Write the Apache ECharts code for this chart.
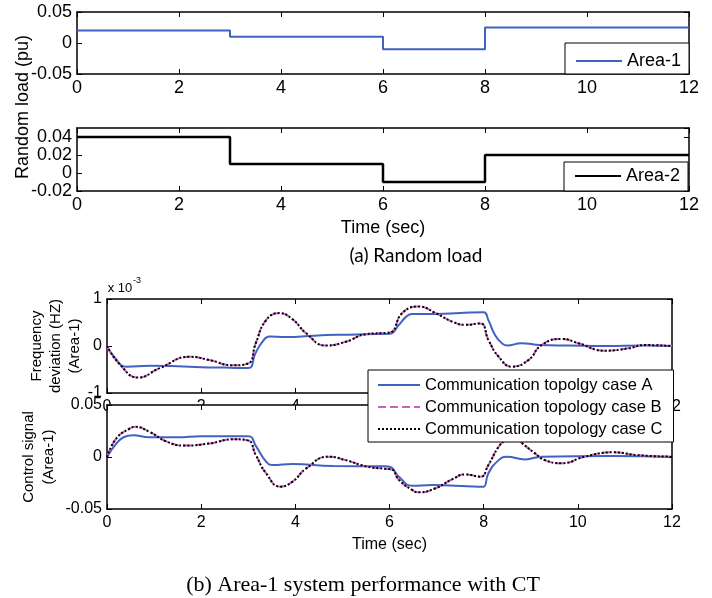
<!DOCTYPE html>
<html><head><meta charset="utf-8">
<script src="https://cdn.jsdelivr.net/npm/echarts@6/dist/echarts.min.js"></script>
<style>html,body{margin:0;padding:0;background:#fff}#c{width:712px;height:598px}</style>
</head><body><div id="c"></div>
<script>
// ---------- data ----------
const xTickValues = [0, 2, 4, 6, 8, 10, 12];
const loadTime = [0, 3, 6, 8, 12];
const loadArea1 = [0.02, 0.01, -0.01, 0.025, 0.025];
const loadArea2 = [0.04, 0.01, -0.01, 0.02, 0.02];

// Frequency deviation (x 10^-3), Area-1
const freqTimeA = [0, 0.15, 0.42, 0.9, 1.5, 2.0, 2.5, 3.0, 3.15, 3.3, 3.45, 3.8, 4.4, 5.0, 5.5, 6.0, 6.2, 6.35, 6.48, 7.0, 7.5, 8.0, 8.1, 8.25, 8.4, 8.5, 8.8, 9.2, 9.8, 10.6, 11.4, 12];
const freqCaseA = [0, -0.23, -0.44, -0.42, -0.43, -0.45, -0.46, -0.47, -0.16, 0.09, 0.2, 0.19, 0.22, 0.24, 0.25, 0.26, 0.45, 0.62, 0.68, 0.68, 0.70, 0.72, 0.55, 0.22, 0.05, 0.01, 0.06, 0.02, 0.01, 0, 0.01, 0];
const freqTimeB = [0, 0.28, 0.66, 1.12, 1.76, 2.18, 2.67, 3.0, 3.16, 3.38, 3.66, 3.94, 4.23, 4.65, 5.07, 5.5, 5.95, 6.05, 6.27, 6.62, 6.98, 7.33, 7.61, 7.93, 8.1, 8.32, 8.6, 8.95, 9.23, 9.66, 10.01, 10.58, 11.07, 11.42, 12];
const freqCaseB = [0, -0.40, -0.67, -0.47, -0.23, -0.30, -0.41, -0.37, 0.06, 0.55, 0.70, 0.57, 0.27, 0.01, 0.09, 0.25, 0.28, 0.30, 0.70, 0.84, 0.70, 0.52, 0.45, 0.48, 0.13, -0.23, -0.44, -0.30, 0.02, 0.15, 0.06, -0.10, -0.05, 0.02, 0];
const freqCaseC = freqCaseB.slice(); // C overlays B in the figure

// Control signal, Area-1
const ctrlTimeA = [0, 0.2, 0.35, 0.55, 0.9, 1.5, 2.0, 3.0, 3.17, 3.38, 3.52, 3.94, 4.8, 5.9, 6.0, 6.2, 6.48, 6.9, 7.9, 8.0, 8.1, 8.32, 8.49, 8.88, 9.23, 10.7, 12];
const ctrlCaseA = [0, 0.013, 0.019, 0.021, 0.019, 0.019, 0.020, 0.020, 0.010, -0.0045, -0.0077, -0.0067, -0.0087, -0.009, -0.0093, -0.019, -0.0276, -0.027, -0.0285, -0.0285, -0.0157, -0.003, 0.0003, -0.0023, 0.0003, 0.001, 0];
const ctrlTimeB = [0, 0.2, 0.49, 0.6, 0.91, 1.26, 1.65, 2.18, 2.67, 2.99, 3.16, 3.38, 3.68, 3.94, 4.23, 4.7, 5.07, 5.5, 5.95, 6.05, 6.2, 6.48, 6.62, 6.98, 7.33, 7.61, 7.93, 8.1, 8.32, 8.46, 8.63, 8.81, 9.09, 9.3, 9.66, 10.15, 10.75, 11.28, 12];
const ctrlCaseB = [0, 0.018, 0.0276, 0.029, 0.024, 0.015, 0.011, 0.013, 0.017, 0.016, 0.002, -0.0157, -0.0285, -0.0237, -0.011, 0.0003, -0.003, -0.009, -0.0115, -0.012, -0.022, -0.0317, -0.034, -0.030, -0.0215, -0.0167, -0.019, -0.0077, 0.01, 0.016, 0.02, 0.0135, 0.0035, -0.003, -0.006, 0.0003, 0.0045, 0.0017, 0.0003];
const ctrlCaseC = ctrlCaseB.slice();

const seriesNames = ['Communication topolgy case A', 'Communication topology case B', 'Communication topology case C'];

// ---------- helpers ----------
const zip = (t, v) => t.map((x, i) => [x, v[i]]);
const SANS = '"Liberation Sans", Arial, sans-serif';
const BLUE = '#4162C0', PINK = '#CC5FC4', BLACK = '#000';
const axLine = { show: true, onZero: false, lineStyle: { color: '#000', width: 1.5 } };
const tick = { show: true, inside: true, length: 5, lineStyle: { color: '#000', width: 1 } };

const grids = [
  { left: 77, top: 12, width: 612, height: 62 },
  { left: 77, top: 128, width: 612, height: 63 },
  { left: 107, top: 299, width: 565, height: 94 },
  { left: 107, top: 405, width: 565, height: 104, show: true, backgroundColor: '#fff', borderWidth: 0, z: 2 }
];
const yRanges = [
  { min: -0.05, max: 0.05, interval: 0.05 },
  { min: -0.02, max: 0.05, interval: 0.02 },
  { min: -1, max: 1, interval: 1 },
  { min: -0.05, max: 0.05, interval: 0.05 }
];
const fs = [18, 18, 16, 16];
const axZ = [0, 0, 0, 3];

const xAxis = [], yAxis = [];
grids.forEach((g, i) => {
  xAxis.push({
    type: 'value', gridIndex: i, min: 0, max: 12, interval: 2, position: 'bottom', z: axZ[i],
    axisLine: axLine, axisTick: tick, splitLine: { show: false },
    axisLabel: { color: '#000', fontFamily: SANS, fontSize: fs[i], margin: i < 2 ? 5 : 6 },
    name: (i === 1 || i === 3) ? 'Time (sec)' : '', nameLocation: 'middle', nameGap: 28,
    nameTextStyle: { color: '#000', fontFamily: SANS, fontSize: fs[i], verticalAlign: 'top' }
  });
  xAxis.push({
    type: 'value', gridIndex: i, min: 0, max: 12, interval: 2, position: 'top', z: axZ[i],
    axisLine: axLine, axisTick: tick, splitLine: { show: false }, axisLabel: { show: false }
  });
  yAxis.push(Object.assign({
    type: 'value', gridIndex: i, position: 'left', z: axZ[i],
    axisLine: axLine, axisTick: tick, splitLine: { show: false },
    axisLabel: { color: '#000', fontFamily: SANS, fontSize: fs[i], margin: 5, showMaxLabel: i !== 1 }
  }, yRanges[i]));
  yAxis.push(Object.assign({
    type: 'value', gridIndex: i, position: 'right', z: axZ[i],
    axisLine: axLine, axisTick: tick, splitLine: { show: false }, axisLabel: { show: false }
  }, yRanges[i]));
});

const lineBase = { type: 'line', symbol: 'none', showSymbol: false, animation: false };
const series = [
  Object.assign({}, lineBase, { name: 'Area-1', xAxisIndex: 0, yAxisIndex: 0, step: 'end',
    data: zip(loadTime, loadArea1), lineStyle: { color: BLUE, width: 2 }, itemStyle: { color: BLUE } }),
  Object.assign({}, lineBase, { name: 'Area-2', xAxisIndex: 2, yAxisIndex: 2, step: 'end',
    data: zip(loadTime, loadArea2), lineStyle: { color: BLACK, width: 2.5 }, itemStyle: { color: BLACK } })
];
const panelData = [
  [zip(freqTimeA, freqCaseA), zip(freqTimeB, freqCaseB), zip(freqTimeB, freqCaseC)],
  [zip(ctrlTimeA, ctrlCaseA), zip(ctrlTimeB, ctrlCaseB), zip(ctrlTimeB, ctrlCaseC)]
];
const styles = [
  { color: BLUE, width: 2, type: 'solid' },
  { color: PINK, width: 2, type: 'dashed' },
  { color: BLACK, width: 2, type: 'dotted' }
];
panelData.forEach((pd, p) => {
  pd.forEach((d, k) => {
    series.push(Object.assign({}, lineBase, {
      name: seriesNames[k], xAxisIndex: 4 + 2 * p, yAxisIndex: 4 + 2 * p,
      data: d, smooth: 0.5, z: 2 + k,
      lineStyle: styles[k], itemStyle: { color: styles[k].color }
    }));
  });
});

const legendBase = {
  orient: 'vertical', backgroundColor: '#fff', borderColor: '#000', borderWidth: 1, borderRadius: 0,
  selectedMode: false, itemGap: 4, z: 10, itemStyle: { opacity: 0 }
};
const legend = [
  Object.assign({}, legendBase, { data: ['Area-1'], left: 565, top: 43, padding: [8, 8, 3, 10],
    itemWidth: 46, itemHeight: 14, textStyle: { fontFamily: SANS, fontSize: 18, color: '#000', lineHeight: 20 } }),
  Object.assign({}, legendBase, { data: ['Area-2'], left: 564, top: 162, padding: [4, 8, 5, 10],
    itemWidth: 46, itemHeight: 14, textStyle: { fontFamily: SANS, fontSize: 18, color: '#000', lineHeight: 20 } }),
  Object.assign({}, legendBase, { data: seriesNames, left: 368, top: 370, padding: [6, 11, 4, 9],
    itemWidth: 42, itemHeight: 14, textStyle: { fontFamily: SANS, fontSize: 16.5, color: '#000', lineHeight: 18 } })
];

const txt = (text, x, y, font, extra) => Object.assign({
  type: 'text', x: x, y: y, z: 20,
  style: { text: text, font: font, fill: '#000', textAlign: 'center', textVerticalAlign: 'middle' }
}, extra || {});

const graphic = [
  txt('Random load (pu)', 23, 107, '18px ' + SANS, { rotation: Math.PI / 2 }),
  txt('', 56, 346, '', { rotation: Math.PI / 2, style: { text: 'Frequency\ndeviation (HZ)\n(Area-1)', font: '15px ' + SANS, fill: '#000', textAlign: 'center', textVerticalAlign: 'middle', lineHeight: 19 } }),
  txt('', 39, 457, '', { rotation: Math.PI / 2, style: { text: 'Control signal\n(Area-1)', font: '15px ' + SANS, fill: '#000', textAlign: 'center', textVerticalAlign: 'middle', lineHeight: 20 } }),
  txt('x 10', 120, 288, '13px ' + SANS),
  txt('-3', 137, 281, '9px ' + SANS),
  txt('(a) Random load', 416, 256, '19px Lato, "Open Sans", sans-serif'),
  txt('(b) Area-1 system performance with CT', 363, 585, '22px "Liberation Serif", "Times New Roman", serif')
];

const chart = echarts.init(document.getElementById('c'));
chart.setOption({
  backgroundColor: '#fff', animation: false,
  grid: grids, xAxis: xAxis, yAxis: yAxis, series: series, legend: legend, graphic: graphic
});
</script></body></html>
